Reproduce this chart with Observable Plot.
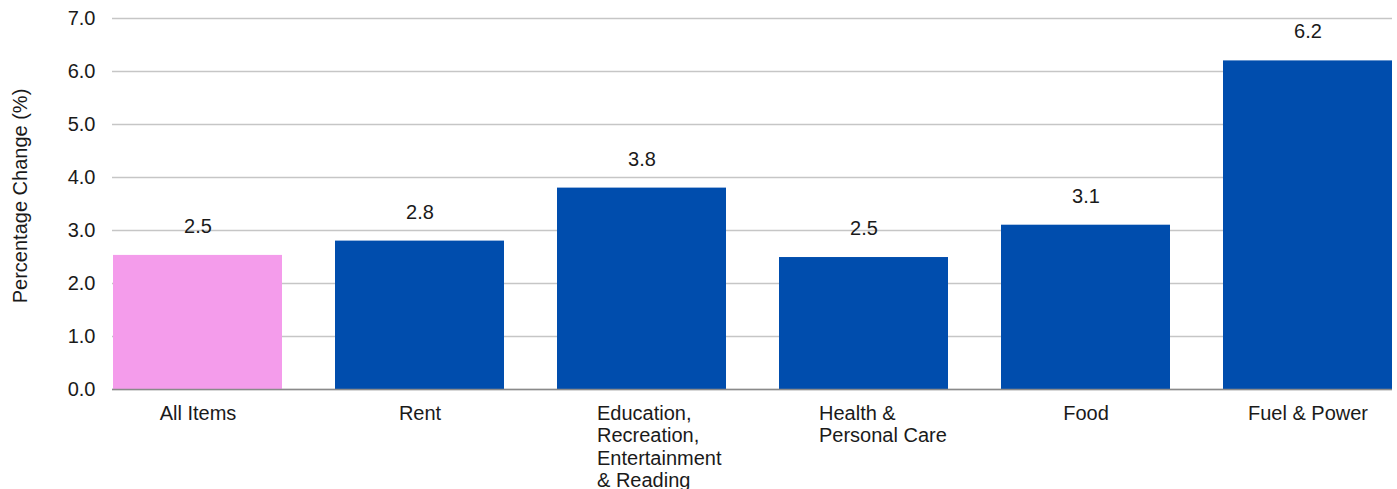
<!DOCTYPE html>
<html>
<head>
<meta charset="utf-8">
<script src="https://cdn.jsdelivr.net/npm/d3@7"></script>
<script src="https://cdn.jsdelivr.net/npm/@observablehq/plot@0.6"></script>
<style>
  html, body { margin: 0; padding: 0; background: #fff; }
  #chart svg { display: block; }
</style>
</head>
<body>
<div id="chart"></div>
<script>
const categories = ["All Items", "Rent", "Education, Recreation, Entertainment & Reading", "Health & Personal Care", "Food", "Fuel & Power"];
const axisLabels = ["All Items", "Rent", "Education,\nRecreation,\nEntertainment\n& Reading", "Health &\nPersonal Care", "Food", "Fuel & Power"];
const values = [2.53, 2.8, 3.8, 2.49, 3.1, 6.2];
const valueLabels = ["2.5", "2.8", "3.8", "2.5", "3.1", "6.2"];
const barColors = ["#F49CEB", "#004DAD", "#004DAD", "#004DAD", "#004DAD", "#004DAD"];
const yTicks = [0, 1, 2, 3, 4, 5, 6, 7];

const data = categories.map((c, i) => ({
  category: c, label: axisLabels[i], value: values[i], text: valueLabels[i], color: barColors[i],
  multi: axisLabels[i].includes("\n")
}));

const font = "'Liberation Sans', Arial, sans-serif";
const fs = 20;

const chart = Plot.plot({
  width: 1397,
  height: 489,
  marginLeft: 112,
  marginRight: 5,
  marginTop: 18,
  marginBottom: 100,
  style: { fontFamily: font, fontSize: fs + "px", color: "#1a1a1a", background: "#fff" },
  x: { domain: categories, paddingInner: 0.24, paddingOuter: 0, align: 0.5, label: null, axis: null },
  y: { domain: [0, 7], label: null, axis: null },
  marks: [
    Plot.gridY(yTicks, { stroke: "#c6c6c6", strokeOpacity: 1, strokeWidth: 1.5 }),
    Plot.barY(data, { x: "category", y: "value", fill: "color" }),
    Plot.ruleY([0], { stroke: "#8a8a8a", strokeWidth: 1.5 }),
    Plot.axisY({ ticks: yTicks, tickFormat: d3.format(".1f"), tickSize: 0, tickPadding: 17, label: null, fontSize: fs, fill: "#1a1a1a" }),
    Plot.text(["Percentage Change (%)"], { frameAnchor: "left", textAnchor: "middle", rotate: -90, dx: -92, dy: -8, fontSize: fs, fill: "#1a1a1a" }),
    Plot.text(data.filter(d => !d.multi), { x: "category", y: 0, text: "label", lineAnchor: "top", dy: 14, fontSize: fs, fill: "#1a1a1a", lineHeight: 1.13 }),
    Plot.text(data.filter(d => d.multi), { x: "category", y: 0, text: "label", lineAnchor: "top", textAnchor: "start", dx: -45, dy: 14, fontSize: fs, fill: "#1a1a1a", lineHeight: 1.13 }),
    Plot.text(data, { x: "category", y: "value", text: "text", dy: -29, fontSize: fs, fill: "#1a1a1a" })
  ]
});
document.getElementById("chart").appendChild(chart);
</script>
</body>
</html>
